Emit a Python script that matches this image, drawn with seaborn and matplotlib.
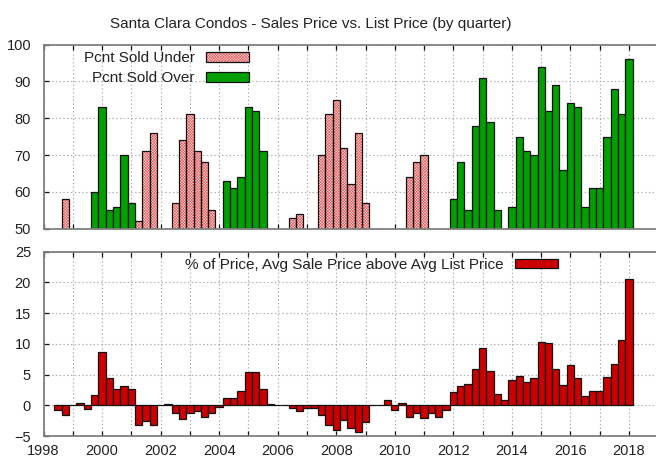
import numpy as np
import pandas as pd
import matplotlib
matplotlib.use("Agg")
import matplotlib.pyplot as plt
import seaborn as sns
from matplotlib.legend_handler import HandlerTuple

# quarters where more homes sold under list price (pct)
under_q = [1998.75, 2001.25, 2001.5, 2001.75, 2002.5, 2002.75, 2003.0, 2003.25,
           2003.5, 2003.75, 2006.5, 2006.75, 2007.5, 2007.75, 2008.0, 2008.25,
           2008.5, 2008.75, 2009.0, 2010.5, 2010.75, 2011.0]
under_pct = [58, 52, 71, 76, 57, 74, 81, 71, 68, 55, 53, 54, 70, 81, 85, 72,
             62, 76, 57, 64, 68, 70]

# quarters where more homes sold over list price (pct)
over_q = [1999.75, 2000.0, 2000.25, 2000.5, 2000.75, 2001.0, 2004.25, 2004.5,
          2004.75, 2005.0, 2005.25, 2005.5, 2012.0, 2012.25, 2012.5, 2012.75,
          2013.0, 2013.25, 2013.5, 2014.0, 2014.25, 2014.5, 2014.75, 2015.0,
          2015.25, 2015.5, 2015.75, 2016.0, 2016.25, 2016.5, 2016.75, 2017.0,
          2017.25, 2017.5, 2017.75, 2018.0]
over_pct = [60, 83, 55, 56, 70, 57, 63, 61, 64, 83, 82, 71, 58, 68, 55, 78,
            91, 79, 55, 56, 75, 71, 70, 94, 82, 89, 66, 84, 83, 56, 61, 61,
            75, 88, 81, 96]

# avg sale price above avg list price, every quarter 1998 Q3 .. 2018 Q1
quarters = np.arange(1998.5, 2018.01, 0.25)
above_pct = [-0.8, -1.6, 0, 0.45, -0.65, 1.6,
             8.6, 4.5, 2.65, 3.15,
             2.65, -3.25, -2.55, -3.15,
             0, 0.15, -1.25, -2.3,
             -1.25, -1.0, -1.9, -1.25,
             -0.35, 1.2, 1.2, 2.3,
             5.4, 5.4, 2.6, 0.25,
             0, 0, -0.45, -1.0,
             -0.5, -0.45, -1.55, -3.15,
             -4.05, -2.35, -3.75, -4.4,
             -2.7, 0, 0, 0.9,
             -0.8, 0.35, -1.85, -1.3,
             -2.05, -1.25, -1.9, -0.8,
             2.15, 3.2, 3.45, 5.95,
             9.4, 5.6, 1.85, 0.85,
             4.05, 4.7, 3.75, 4.4,
             10.3, 10.1, 5.9, 3.3,
             6.55, 4.4, 1.55, 2.35,
             2.35, 4.55, 6.75, 10.7,
             20.5]

year_ticks = list(range(1998, 2020))
year_labels = [str(y) if y % 2 == 0 else "" for y in year_ticks]

sns.set_style("white")
plt.rcParams['font.family'] = ['Liberation Sans', 'DejaVu Sans']
plt.rcParams['font.size'] = 10.5
plt.rcParams['hatch.linewidth'] = 0.45
TXT = '#222222'

fig = plt.figure(figsize=(6.56, 4.61), dpi=100)
W, H = 656, 461
x0, x_per_year = 43.5, 29.275
ax_w = 21 * x_per_year / W
ax1 = fig.add_axes([x0 / W, 1 - 228.7 / H, ax_w, (228.7 - 44.5) / H])
ax2 = fig.add_axes([x0 / W, 1 - 436 / H, ax_w, (436 - 251.7) / H])

under = pd.DataFrame({'q': under_q, 'pct': under_pct})
over = pd.DataFrame({'q': over_q, 'pct': over_pct})
above = pd.DataFrame({'q': quarters, 'pct': above_pct})

# top panel: pink patterned bars + green bars
sns.barplot(data=under, x='q', y='pct', native_scale=True, width=1,
            color='#fbe4e4', saturation=1, errorbar=None, ax=ax1,
            edgecolor='#e85a5a', linewidth=0, hatch='x' * 12)
sns.barplot(data=under, x='q', y='pct', native_scale=True, width=1,
            color='#111111', fill=False, errorbar=None, ax=ax1, linewidth=0.9)
sns.barplot(data=over, x='q', y='pct', native_scale=True, width=1,
            color='#00a000', saturation=1, errorbar=None, ax=ax1,
            edgecolor='#111111', linewidth=0.9)

# bottom panel: red bars
sns.barplot(data=above, x='q', y='pct', native_scale=True, width=1,
            color='#cc0000', saturation=1, errorbar=None, ax=ax2,
            edgecolor='#111111', linewidth=0.9)

for ax in (ax1, ax2):
    ax.set_xlim(1998, 2019)
    ax.set_xticks(year_ticks)
    ax.set_xlabel('')
    ax.set_ylabel('')
    ax.set_axisbelow(True)
    ax.grid(True, linestyle=(0, (1.2, 2.2)), color='#a8a8a8', linewidth=0.8)
    for s in ax.spines.values():
        s.set_color('#808080')
        s.set_linewidth(1.3)
    ax.tick_params(direction='in', length=3.5, width=0.9, color='#111111',
                   top=True, bottom=True, left=True, right=False,
                   labelcolor=TXT, labelsize=10.5)
    ax.tick_params(axis='y', pad=9)
    ax.tick_params(axis='x', pad=6)

ax1.set_ylim(50, 100)
ax1.set_yticks(range(50, 101, 10))
ax1.set_xticklabels([''] * len(year_ticks))

ax2.set_ylim(-5, 25)
ax2.set_yticks(range(-5, 26, 5))
ax2.set_xticklabels(year_labels)

c = ax1.containers
ax1.legend([(c[0], c[1]), c[2]], ['Pcnt Sold Under', 'Pcnt Sold Over'],
           handler_map={tuple: HandlerTuple(ndivide=1)},
           loc='upper right', bbox_to_anchor=(0.334, 0.963),
           markerfirst=False, frameon=False, borderpad=0,
           borderaxespad=0, handlelength=2.8, handleheight=0.55,
           handletextpad=0.75, labelspacing=0.4, fontsize=11,
           labelcolor=TXT)

ax2.legend([ax2.containers[0]], ['% of Price, Avg Sale Price above Avg List Price'],
           loc='upper right', bbox_to_anchor=(0.837, 0.965),
           markerfirst=False, frameon=False, borderpad=0, borderaxespad=0,
           handlelength=2.8, handleheight=0.55, handletextpad=0.75,
           fontsize=11, labelcolor=TXT)

fig.text(0.4733, 1 - 24 / H,
         'Santa Clara Condos - Sales Price vs. List Price (by quarter)',
         ha='center', va='center', fontsize=11, color=TXT)

fig.savefig('out.png', dpi=100)
